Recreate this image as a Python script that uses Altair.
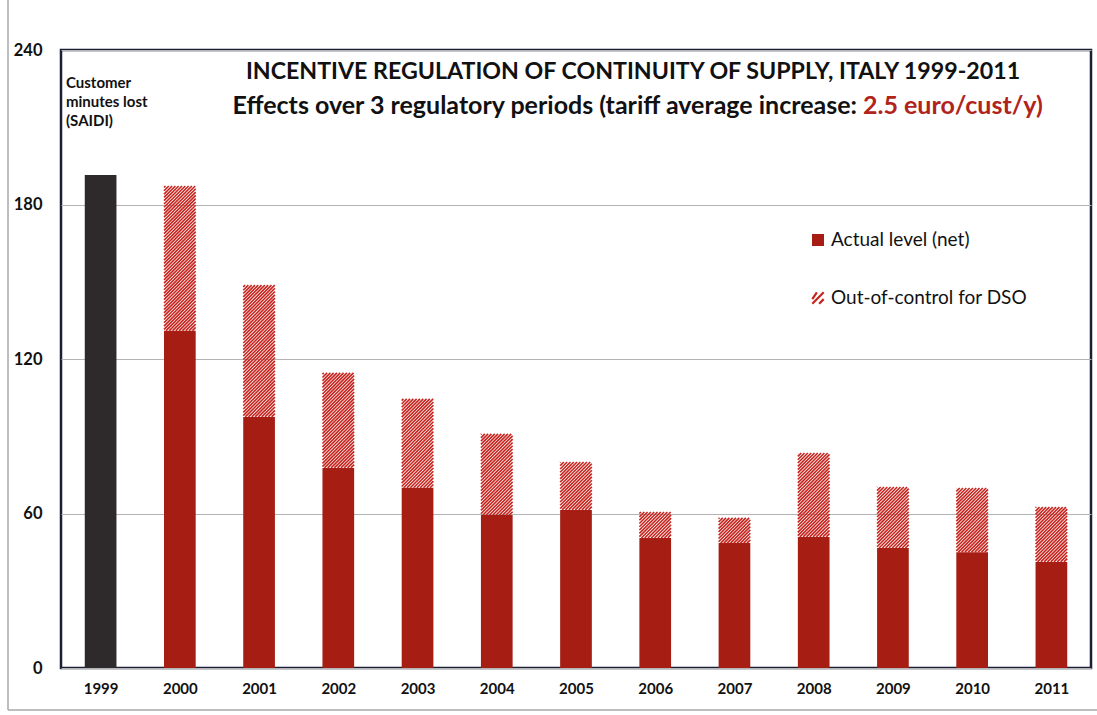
import altair as alt
import pandas as pd

# ---------------- data ----------------
years = [1999, 2000, 2001, 2002, 2003, 2004, 2005, 2006, 2007, 2008, 2009, 2010, 2011]
net_level = [191.5, 131.0, 97.5, 77.7, 70.0, 59.4, 61.4, 50.5, 48.5, 50.9, 46.6, 45.0, 41.2]
total_level = [191.5, 187.2, 148.7, 114.6, 104.5, 90.9, 80.0, 60.6, 58.3, 83.5, 70.3, 69.9, 62.5]
y_ticks = [0, 60, 120, 180, 240]

title_line1 = "INCENTIVE REGULATION OF CONTINUITY OF SUPPLY, ITALY 1999-2011"
title_line2_black = "Effects over 3 regulatory periods (tariff average increase:"
title_line2_red = "2.5 euro/cust/y)"
saidi_label = ["Customer", "minutes lost", "(SAIDI)"]
legend_labels = ["Actual level (net)", "Out-of-control for DSO"]

df = pd.DataFrame({"year": years, "net": net_level, "total": total_level})

# ---------------- style / geometry ----------------
W, H = 1030, 618
FONT = "Lato"
RED = "#a51d13"
HATCH = "#c8241e"
DARK = "#2e2a2c"
HALF = 0.2  # half bar width in year units
px_per_x = W / 13.0
px_per_y = H / 240.0
D = (2 * HALF * px_per_x) / px_per_y  # rise (y units) over bar width at 45 degrees
S = 3.3 / px_per_y                     # hatch spacing in y units

xscale = alt.Scale(domain=[1998.5, 2011.5], nice=False, zero=False)
yscale = alt.Scale(domain=[0, 240], nice=False)

bars = alt.Chart(df).transform_calculate(
    x0=f"datum.year - {HALF}", x1=f"datum.year + {HALF}", zero="0"
).mark_rect().encode(
    x=alt.X("x0:Q", scale=xscale,
            axis=alt.Axis(values=years, format="d", grid=False, domain=False, ticks=False,
                          labelFont=FONT, labelFontWeight="bold", labelFontSize=15,
                          labelColor="#111111", labelPadding=13, title=None)),
    x2="x1:Q",
    y=alt.Y("zero:Q", scale=yscale,
            axis=alt.Axis(values=y_ticks, grid=True, gridColor="#b4b4b4", gridWidth=1,
                          domain=False, ticks=False, labelFont=FONT, labelFontWeight="bold",
                          labelFontSize=16.5, labelColor="#111111", labelPadding=19, title=None)),
    y2="net:Q",
    color=alt.condition(alt.datum.year == 1999, alt.value(DARK), alt.value(RED)),
)

hatch = alt.Chart(df).transform_filter(
    "datum.total > datum.net"
).transform_calculate(
    k=f"sequence(0, ceil((datum.total - datum.net + {D}) / {S}) + 1)"
).transform_flatten(["k"]).transform_calculate(
    c=f"datum.net - {D} + datum.k * {S}"
).transform_calculate(
    ys="max(datum.c, datum.net)",
    ye=f"min(datum.c + {D}, datum.total)",
).transform_calculate(
    xs=f"datum.year - {HALF} + (datum.ys - datum.c) / {D} * {2 * HALF}",
    xe=f"datum.year - {HALF} + (datum.ye - datum.c) / {D} * {2 * HALF}",
).transform_filter("datum.xe > datum.xs + 0.001").mark_rule(
    color=HATCH, strokeWidth=1.6
).encode(
    x=alt.X("xs:Q", scale=xscale),
    x2="xe:Q",
    y=alt.Y("ys:Q", scale=yscale),
    y2="ye:Q",
)

one = pd.DataFrame({"a": [0]})

t1 = alt.Chart(one).mark_text(
    text=title_line1, font=FONT, fontWeight="bold", fontSize=23.2, align="center",
    baseline="middle", color="#111111"
).encode(x=alt.value(572), y=alt.value(22))

t2a = alt.Chart(one).mark_text(
    text=title_line2_black, font=FONT, fontWeight="bold", fontSize=25, align="right",
    baseline="middle", color="#111111"
).encode(x=alt.value(796), y=alt.value(56))

t2b = alt.Chart(one).mark_text(
    text=title_line2_red, font=FONT, fontWeight="bold", fontSize=25, align="left",
    baseline="middle", color="#b0241b"
).encode(x=alt.value(802), y=alt.value(56))

saidi = alt.Chart(one).mark_text(
    text=saidi_label, font=FONT, fontWeight="bold", fontSize=15, align="left",
    baseline="top", lineHeight=19, color="#111111"
).encode(x=alt.value(5), y=alt.value(26))

leg_sq = alt.Chart(one).mark_square(size=144, color=RED, opacity=1).encode(
    x=alt.value(757), y=alt.value(190))
leg_hatch = alt.Chart(one).mark_point(
    shape="M-1,0.2L-0.2,-1M-1,1L1,-1M0.2,1L1,0.2", size=130, filled=False,
    stroke=HATCH, strokeWidth=2.2, opacity=1
).encode(x=alt.value(757), y=alt.value(248))
leg_t1 = alt.Chart(one).mark_text(
    text=legend_labels[0], font=FONT, fontSize=19, align="left", baseline="middle",
    color="#111111"
).encode(x=alt.value(770), y=alt.value(190))
leg_t2 = alt.Chart(one).mark_text(
    text=legend_labels[1], font=FONT, fontSize=19, align="left", baseline="middle",
    color="#111111"
).encode(x=alt.value(770), y=alt.value(248))

# outer thin border of the original slide
border_v = alt.Chart(one).mark_rule(color="#a8a8a8", strokeWidth=1.5).encode(
    x=alt.value(-53), y=alt.value(-50), y2=alt.value(660))
border_h = alt.Chart(one).mark_rule(color="#a8a8a8", strokeWidth=1.5).encode(
    x=alt.value(-53), x2=alt.value(1036), y=alt.value(660))

chart = alt.layer(
    bars, hatch, t1, t2a, t2b, saidi, leg_sq, leg_hatch, leg_t1, leg_t2, border_v, border_h
).properties(
    width=W, height=H,
    autosize=alt.AutoSizeParams(type="none"),
    padding={"left": 61, "top": 50, "right": 6, "bottom": 47},
    background="white",
).configure_view(
    stroke="#1b1e35", strokeWidth=2.5
)

chart.save("out.html", embed_options={"renderer": "svg", "actions": False})
